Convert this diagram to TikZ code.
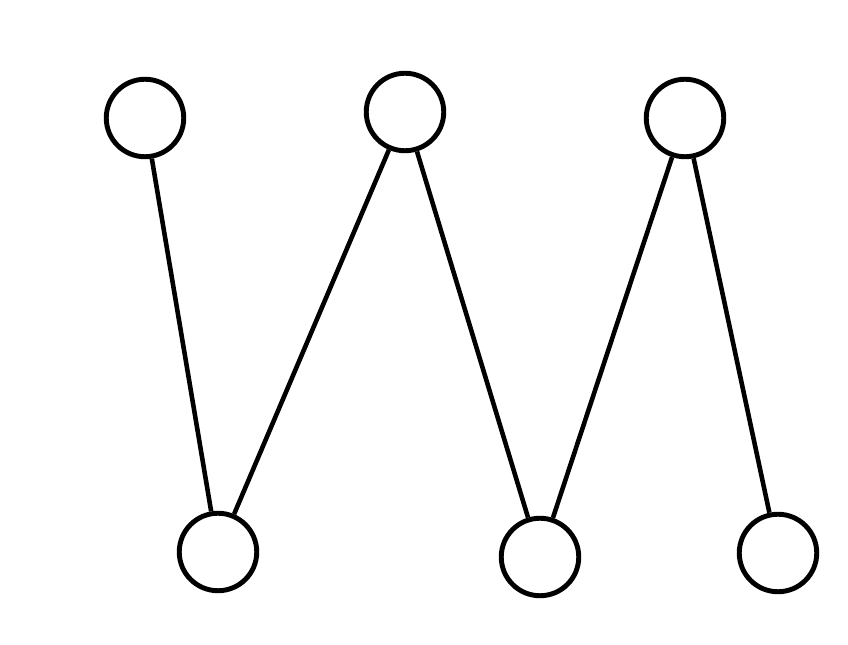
\documentclass[tikz,border=0pt]{standalone}
\usepackage{tikz}
\usetikzlibrary{calc}

\begin{document}
\begin{tikzpicture}[vertex/.style={circle, draw, line width=2.8pt, minimum size=1.55cm, inner sep=0pt},
  edge/.style={line width=2.6pt}]
% Frame (848 x 645 px)
\useasboundingbox (0,0) rectangle (16.96,12.9);

% Top row
\node[vertex] (t1) at (2.9, 10.54) {};
\node[vertex] (t2) at (8.1, 10.66) {};
\node[vertex] (t3) at (13.7, 10.54) {};

% Bottom row
\node[vertex] (b1) at (4.36, 1.86) {};
\node[vertex] (b2) at (10.8, 1.76) {};
\node[vertex] (b3) at (15.56, 1.84) {};

% Zig-zag edges
\draw[edge] (t1) -- (b1);
\draw[edge] (t2) -- (b1);
\draw[edge] (t2) -- (b2);
\draw[edge] (t3) -- (b2);
\draw[edge] (t3) -- (b3);

\end{tikzpicture}
\end{document}
